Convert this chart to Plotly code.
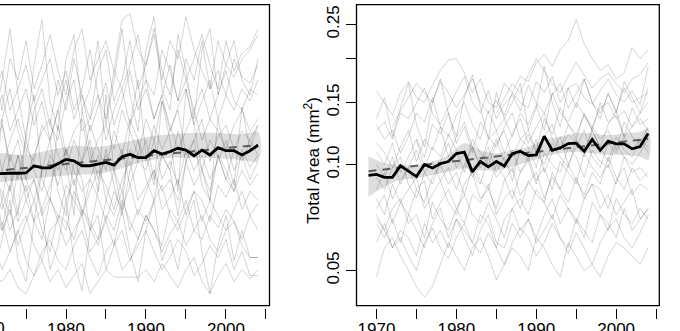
import plotly.graph_objects as go

# ---------------- data ----------------
years = list(range(1970, 2005))          # grey series years (1970-2004)
mean_years = list(range(1969, 2005))     # mean series years (1969-2004)

# Left panel (y axis off-screen; values in relative index units 0-100)
left_series = [
    [70,78,65,82,75,88,72,80,90,78,70,85,92,75,82,88,78,95,97,85,80,90,75,88,82,96,85,78,72,88,80,76,82,85,90],
    [62,70,78,65,72,80,68,75,82,70,78,65,72,85,70,62,78,72,80,90,75,70,85,78,68,82,75,88,72,78,70,82,76,74,80],
    [55,62,70,58,65,72,60,68,55,65,75,62,70,58,66,74,60,68,78,65,72,62,70,80,68,75,65,72,62,70,78,68,65,72,70],
    [68,55,62,72,58,50,65,72,60,55,68,75,58,62,70,55,65,72,60,68,75,62,70,58,66,72,60,68,75,62,70,65,72,68,75],
    [50,58,45,55,62,52,48,60,55,65,50,58,62,48,55,60,52,65,58,50,62,55,68,60,52,58,65,55,62,58,52,60,65,58,62],
    [45,52,60,48,55,42,50,58,62,50,45,55,48,60,52,45,58,50,62,55,48,60,52,58,65,50,55,62,48,56,60,52,58,55,60],
    [40,48,35,50,42,55,45,38,50,45,52,40,48,55,42,50,45,38,52,48,55,42,50,45,58,48,52,45,55,50,42,52,48,55,50],
    [48,40,45,38,50,42,35,45,48,40,52,45,38,42,50,35,45,52,40,48,45,55,42,48,40,52,45,50,42,48,55,45,50,42,48],
    [35,42,38,30,45,38,42,32,40,48,35,42,30,38,45,40,32,42,48,35,40,45,38,42,35,48,40,45,38,50,42,38,45,40,44],
    [30,38,32,40,28,35,42,30,36,28,40,35,30,42,36,28,38,32,40,30,38,45,32,36,42,30,38,35,28,40,36,42,32,38,35],
    [38,28,35,25,32,40,28,22,35,30,25,38,32,28,22,35,30,38,25,32,28,35,40,30,25,32,38,28,35,30,25,32,38,30,34],
    [22,30,25,32,20,28,35,25,18,30,28,22,32,26,20,30,25,35,28,22,30,25,20,32,28,35,25,22,30,26,32,28,22,30,25],
    [22,22,28,18,25,30,20,15,25,28,20,25,30,18,22,28,20,25,15,22,30,25,18,24,28,20,25,30,22,18,25,28,20,16,16],
    [15,20,12,18,25,15,10,18,22,15,12,20,25,16,10,18,22,12,15,20,25,18,12,16,22,18,10,14,20,16,22,12,18,10,10],
    [5,10,8,12,6,4,10,15,8,12,6,10,14,4,8,12,9.5,9.5,9.5,9.5,12,8,14,10,6,12,16,8,4,10,14,8,12,9,12],
    [85,60,75,92,70,55,80,95,68,58,82,90,65,72,88,60,75,92,70,58,85,96,72,65,90,78,62,85,92,70,80,88,75,70,82],
    [25,10,22,35,15,8,28,32,12,20,35,15,5,25,30,12,20,32,18,8,25,35,15,22,12,28,35,18,4,20,30,15,25,16,16],
    [55,35,62,45,30,58,70,42,35,60,48,30,65,52,38,70,45,32,60,75,50,40,68,55,38,72,60,45,35,62,50,40,66,52,60],
    [None,None,None,None,None,None,None,None,60,75,65,82,70,62,78,85,68,75,88,72,80,92,78,70,85,75,82,90,80,72,88,78,84,86,92],
    [30,45,25,40,50,35,28,45,55,38,30,48,42,25,38,52,40,30,45,55,42,35,50,45,30,48,55,40,35,50,45,38,52,46,50],
]
left_mean = [43.4,44.1,43.8,44.0,44.0,44.0,44.1,46.5,45.8,45.8,47.3,48.6,48.1,46.5,46.5,47.0,47.6,46.7,
             49.5,50.3,49.2,49.2,51.5,50.4,51.2,52.3,51.7,49.8,51.7,50.1,52.5,51.5,51.5,50.1,51.5,53.3]
left_band_years = [1969,1972,1975,1978,1981,1984,1987,1990,1993,1996,1999,2002,2004]
left_band_upper = [51.7,50.7,50.1,51.7,53.1,52.7,54.1,56.0,57.0,57.4,57.4,57.0,57.7]
left_band_lower = [40.1,41.1,41.8,42.8,43.4,43.8,45.7,48.1,49.1,49.1,49.1,48.4,48.1]
left_trend_years = [1969, 2004]
left_trend = [44.2, 53.4]

# Right panel: Total Area (mm^2) x 1000
right_series_x1000 = [
    [162,150,138,160,172,155,150,168,185,198,200,182,160,175,150,145,170,160,178,172,195,205,190,212,225,258,220,200,185,192,175,182,215,200,212],
    [None,None,128,142,155,170,160,150,172,160,145,158,175,150,140,152,138,160,150,145,172,160,178,150,165,170,155,148,162,175,158,150,162,148,190],
    [125,132,118,140,135,150,165,140,130,145,160,178,150,140,162,135,148,158,142,168,150,140,158,170,145,160,175,150,140,158,142,165,150,155,160],
    [130,118,125,108,120,140,132,155,128,120,138,150,130,118,142,125,135,120,140,130,148,125,160,140,132,150,138,128,145,150,135,142,128,140,150],
    [None,None,None,None,None,118,105,130,122,140,115,128,108,132,120,112,128,140,118,125,110,135,122,145,130,118,140,125,150,132,138,120,145,130,135],
    [115,108,98,112,125,102,118,110,128,105,120,132,112,100,118,125,108,122,135,115,128,140,118,110,130,122,138,125,112,130,142,120,128,135,125],
    [108,100,115,95,105,118,98,112,105,122,110,95,118,108,100,115,125,105,118,112,98,120,130,110,122,115,105,128,118,125,110,132,120,115,128],
    [100,92,105,88,98,110,95,88,102,115,98,108,92,100,112,95,105,90,110,102,118,95,108,120,100,112,125,105,98,115,108,120,110,118,112],
    [92,85,98,105,88,80,95,102,90,98,85,100,95,88,105,92,98,110,95,102,88,108,100,95,112,105,92,110,102,98,115,105,100,108,118],
    [85,95,80,90,98,85,78,92,100,88,95,82,98,90,85,100,92,80,95,105,90,98,85,102,95,88,108,98,92,100,88,105,95,98,92],
    [80,72,88,78,85,92,75,82,90,78,72,88,95,80,85,75,90,98,82,88,95,80,92,85,100,90,82,95,88,105,92,85,98,90,95],
    [75,82,68,78,72,85,90,70,78,85,75,68,82,78,88,72,80,85,75,90,82,78,95,85,78,92,80,88,85,75,90,98,82,88,85],
    [70,65,75,80,68,72,62,78,70,65,75,82,72,68,78,70,62,75,80,72,85,78,70,82,75,68,80,88,75,82,72,78,85,70,75],
    [68,62,70,60,72,65,58,68,75,62,70,65,60,72,68,58,70,75,65,70,62,72,80,68,75,70,62,78,72,65,80,72,68,75,70],
    [60,68,58,65,62,55,68,60,65,58,70,62,55,65,72,60,58,68,62,70,60,65,72,62,58,70,65,60,72,68,62,75,65,70,75],
    [48,58,62,55,50,45,42,45,52,60,55,50,58,62,55,47,52,58,55,50,62,58,52,48,60,55,50,52,48,55,60,58,55,52,58],
    [135,155,120,145,170,130,112,150,175,140,120,155,180,145,118,160,135,150,170,125,145,190,150,128,165,145,175,150,135,160,140,172,155,140,165],
    [None,None,None,None,None,None,None,None,None,None,None,100,112,98,105,118,102,95,110,122,108,100,115,105,98,118,108,125,112,102,120,110,105,118,108],
    [None,None,None,None,None,None,None,None,None,None,None,None,None,None,None,140,155,170,160,180,200,185,170,160,178,195,180,165,175,182,170,160,175,180,195],
    [72,65,58,62,55,50,60,66,58,54,62,68,60,56,64,58,52,60,66,62,55,60,68,62,56,64,58,52,60,66,70,62,58,64,72],
]
right_mean = [0.0932,0.0937,0.0920,0.0920,0.0993,0.0957,0.0924,0.1000,0.0978,0.1005,0.1020,0.1074,0.1084,
              0.0953,0.1020,0.0985,0.1020,0.0990,0.1074,0.1090,0.1060,0.1065,0.1203,0.1098,0.1115,0.1147,
              0.1150,0.1090,0.1178,0.1097,0.1165,0.1145,0.1145,0.1108,0.1125,0.1225]
right_band_years = [1969,1971,1973,1975,1977,1979,1981,1983,1985,1987,1989,1991,1993,1995,1997,1999,2001,2003,2004]
right_band_upper = [0.1057,0.1008,0.0997,0.0997,0.1018,0.1064,0.1149,0.1099,0.1076,0.1099,0.1123,0.1174,
                    0.1199,0.1226,0.1226,0.1213,0.1226,0.1239,0.1267]
right_band_lower = [0.0810,0.0865,0.0904,0.0914,0.0934,0.0954,0.0975,0.0964,0.0964,0.0986,0.1018,0.1052,
                    0.1076,0.1088,0.1076,0.1064,0.1064,0.1052,0.1030]
right_trend_years = [1969, 2004]
right_trend = [0.0957, 0.1183]

x_major_ticks = [1970, 1980, 1990, 2000]
x_major_labels = ["1970", "1980", "1990", "2000"]
x_minor_ticks = [1975, 1985, 1995, 2005]
y_major_ticks = [0.05, 0.10, 0.15, 0.25]
y_major_labels = ["0.05", "0.10", "0.15", "0.25"]
y_minor_ticks = [0.20]

# ---------------- figure ----------------
W, H = 680, 331
FONT = "Liberation Sans, Arial, Helvetica, sans-serif"
GREY_LINE = "rgba(0,0,0,0.17)"
BAND = "rgba(0,0,0,0.13)"

fig = go.Figure()

def add_panel(series, yrs, mean, band_yrs, up, lo, tr_yrs, tr, xa, ya, scale=1.0):
    for s in series:
        fig.add_trace(go.Scatter(x=yrs, y=[None if v is None else v * scale for v in s],
                                 mode="lines", line=dict(color=GREY_LINE, width=1),
                                 xaxis=xa, yaxis=ya, hoverinfo="skip", showlegend=False,
                                 connectgaps=False))
    fig.add_trace(go.Scatter(x=band_yrs + band_yrs[::-1], y=up + lo[::-1], fill="toself",
                             fillcolor=BAND, line=dict(width=0, shape="spline"), mode="lines",
                             xaxis=xa, yaxis=ya, hoverinfo="skip", showlegend=False))
    fig.add_trace(go.Scatter(x=tr_yrs, y=tr, mode="lines",
                             line=dict(color="rgba(70,70,70,0.85)", width=2, dash="8px,6px"),
                             xaxis=xa, yaxis=ya, hoverinfo="skip", showlegend=False))
    fig.add_trace(go.Scatter(x=mean_years, y=mean, mode="lines",
                             line=dict(color="black", width=2.8),
                             xaxis=xa, yaxis=ya, hoverinfo="skip", showlegend=False))

add_panel(left_series, years, left_mean, left_band_years, left_band_upper, left_band_lower,
          left_trend_years, left_trend, "x", "y")
add_panel(right_series_x1000, years, right_mean, right_band_years, right_band_upper, right_band_lower,
          right_trend_years, right_trend, "x2", "y2", scale=0.001)

y_bot = (H - 305.7) / H
y_top = (H - 4.7) / H
ax_pos = (H - 308) / H

xcommon = dict(tickmode="array", tickvals=x_major_ticks, ticktext=x_major_labels, ticks="outside",
               ticklen=10, tickwidth=1.3, tickcolor="black", showline=False, showgrid=False,
               zeroline=False, anchor="free", position=ax_pos, automargin=False,
               ticklabelstandoff=-4,
               minor=dict(tickmode="array", tickvals=x_minor_ticks, ticks="outside", ticklen=10,
                          tickwidth=1.3, tickcolor="black", showgrid=False),
               tickfont=dict(family=FONT, size=17, color="black"))

fig.update_layout(
    template="none",
    width=W, height=H, margin=dict(l=0, r=0, t=0, b=0, pad=0, autoexpand=False),
    paper_bgcolor="white", plot_bgcolor="white", showlegend=False,
    font=dict(family=FONT, size=17, color="black"),
    xaxis=dict(domain=[0, 269.5 / W], range=[1971.75, 2005.44], **xcommon),
    yaxis=dict(domain=[y_bot, y_top], range=[0, 100], anchor="x", visible=False, automargin=False),
    xaxis2=dict(domain=[356.5 / W, 659.3 / W], range=[1967.5, 2005.4], **xcommon),
    yaxis2=dict(domain=[y_bot, y_top], type="log", range=[-1.401, -0.546], anchor="x2",
                tickmode="array", tickvals=y_major_ticks, ticktext=y_major_labels, tickangle=-90,
                ticks="outside", ticklen=10, tickwidth=1.3, tickcolor="black",
                minor=dict(tickmode="array", tickvals=y_minor_ticks, ticks="outside", ticklen=10,
                           tickwidth=1.3, tickcolor="black", showgrid=False),
                showline=False, showgrid=False, zeroline=False, automargin=False,
                tickfont=dict(family=FONT, size=17, color="black")),
    shapes=[
        dict(type="rect", xref="paper", yref="paper", x0=-0.1, x1=269.5 / W, y0=y_bot, y1=y_top,
             line=dict(color="black", width=1.3), fillcolor="rgba(0,0,0,0)", layer="above"),
        dict(type="rect", xref="paper", yref="paper", x0=356.5 / W, x1=659.3 / W, y0=y_bot, y1=y_top,
             line=dict(color="black", width=1.3), fillcolor="rgba(0,0,0,0)", layer="above"),
    ],
    annotations=[
        dict(text="Total Area (mm<sup>2</sup>)", textangle=-90, xref="paper", yref="paper",
             x=311.7 / W, y=(H - 160) / H, showarrow=False, xanchor="center", yanchor="middle",
             font=dict(family=FONT, size=17, color="black")),
        dict(text="1970", xref="paper", yref="paper", x=-14 / W, y=(H - 317) / H,
             showarrow=False, xanchor="center", yanchor="top",
             font=dict(family=FONT, size=17, color="black")),
    ],
)

fig.write_html("out.html")
